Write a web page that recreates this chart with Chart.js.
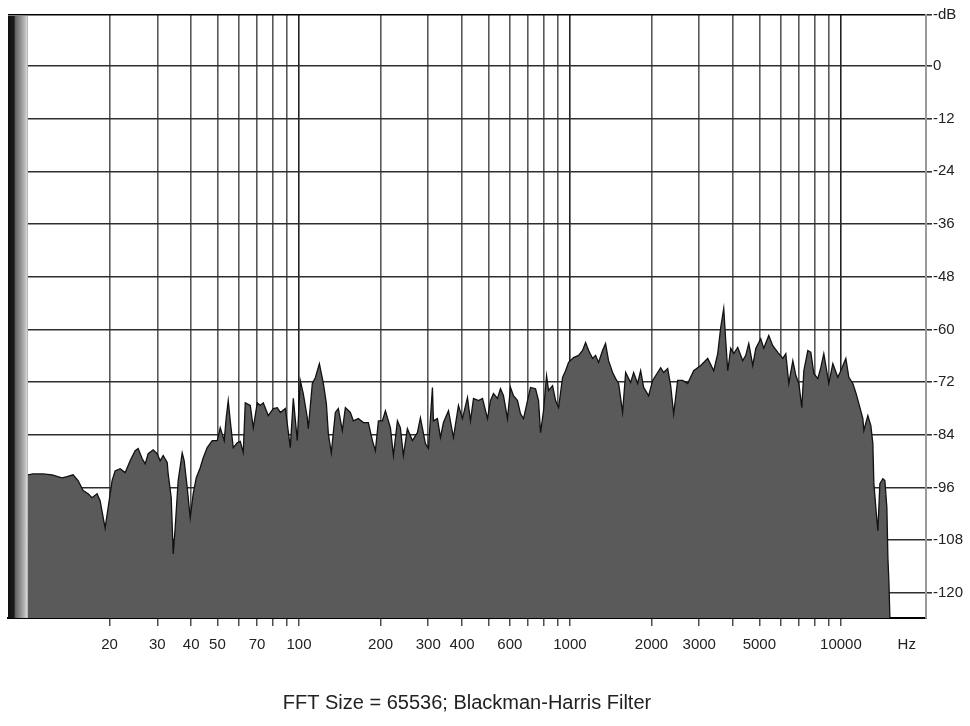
<!DOCTYPE html>
<html>
<head>
<meta charset="utf-8">
<script src="https://cdn.jsdelivr.net/npm/chart.js@4.4.0/dist/chart.umd.min.js"></script>
<style>
  html, body { margin: 0; padding: 0; background: #fff; }
  #wrap { width: 970px; height: 726px; }
</style>
</head>
<body>
<div id="wrap"><canvas id="fftChart"></canvas></div>
<script>
// Spectrum (Hz / dB)
const freqHz = [
  10, 10.43, 11.36, 12.27, 13.35, 13.94, 14.66, 15.3, 15.97, 16.66, 17.23, 17.98, 18.45, 19.25, 19.75,
  20.43, 20.96, 21.87, 22.82, 23.81, 24.85, 25.49, 26.37, 27.06, 27.76, 28.96, 29.96, 30.74, 31.53, 32.63,
  32.9, 33.76, 34.34, 34.91, 35.82, 37.07, 37.7, 38.68, 39.68, 40.7, 41.75, 43.2, 44.32, 45.85, 47.84,
  49.92, 51.21, 52.97, 53.88, 54.81, 55.75, 57.19, 59.17, 60.71, 62.27,
  63.34, 66.1, 67.81, 70.15, 71.94, 73.81, 77.02, 80.37, 83.16, 85.31, 89.02, 92.89, 95.28, 98.56, 101.1,
  103.7, 107.3, 108.2, 112, 114.9, 118.9, 123, 126.2, 128.3, 131.6, 136.2, 139.7, 144.5, 148.3, 154.7,
  158.7, 165.6, 172.8, 180.3, 186.6, 191.4, 196.4, 203.2, 208.4, 217.5, 223.1, 230.8, 236.7, 242.8, 251.2,
  262.1, 273.5, 280.6, 292.8, 300.4, 310.8, 313.4, 324.3, 332.7, 341.3, 356.2, 371.5, 387.7, 401.1,
  418.6, 429.4, 440.6, 459.7, 475.6, 496.3, 508.8, 522, 540.1, 554.1, 568.4, 588.1, 603.3, 618.9, 640.4,
  656.9, 674, 697.3, 715.3, 746.4, 765.6, 778.8, 799, 819.7, 833.8, 862.6, 885, 907.8, 939.3, 963.4,
  988.2, 1031, 1076, 1113, 1142, 1172, 1212, 1243, 1275, 1319, 1353, 1388, 1437, 1474, 1512,
  1564, 1605, 1674, 1718, 1777, 1823, 1871, 1952, 2019, 2107, 2161, 2217, 2294, 2353, 2414, 2497, 2606,
  2719, 2861, 3038, 3224, 3393, 3510, 3601, 3694, 3757, 3822, 3921, 4022, 4161, 4342, 4454,
  4570, 4728, 4850, 5060, 5191, 5416, 5604, 5848, 6102, 6260, 6422, 6645, 6817, 6993, 7172,
  7296, 7548, 7743, 7943, 8214, 8427, 8645, 9022, 9335, 9739, 9991, 10425, 10695, 11066, 11350,
  11645, 12048, 12151, 12570, 12895, 13117, 13229, 13455, 13687, 13922, 14282, 14527, 14777, 14904, 15031, 15160
]
const levelDb = [
  -93.1, -92.9, -92.9, -93.1, -93.8, -93.5, -93.1, -94.4, -96.7, -97.4, -98.3, -97.4, -99.0, -105.2, -100.6,
  -94.4, -92.2, -91.7, -92.6, -89.9, -87.6, -87.1, -89.4, -90.6, -88.3, -87.4, -88.3, -89.9, -88.7, -90.3,
  -92.9, -98.3, -111.1, -105.2, -94.4, -88.1, -89.9, -96.0, -102.9, -97.4, -93.8, -91.5, -89.2, -86.9, -85.3,
  -85.3, -82.4, -85.3, -80.1, -76.2, -80.8, -86.9, -85.8, -85.5, -88.0,
  -76.7, -77.3, -82.4, -76.7, -77.3, -76.7, -79.6, -78.0, -77.8, -78.9, -78.0, -86.9, -75.7, -85.3, -71.6,
  -74.6, -80.1, -82.6, -72.3, -71.0, -67.8, -72.3, -76.9, -83.7, -88.1, -78.9, -78.0, -83.0, -77.8, -78.9,
  -80.8, -80.3, -81.2, -81.2, -85.3, -87.6, -80.8, -80.8, -78.5, -82.4, -88.7, -80.8, -82.4, -88.7, -82.6,
  -85.3, -83.5, -80.1, -86.0, -87.1, -73.2, -80.8, -80.3, -84.6, -81.2, -78.5, -84.6, -77.3, -80.3,
  -75.5, -80.8, -75.7, -76.2, -75.7, -80.3, -76.2, -74.6, -75.7, -73.5, -75.1, -80.3, -73.2, -75.1, -76.2,
  -79.2, -80.3, -76.2, -73.2, -73.5, -76.2, -83.5, -78.5, -70.5, -73.9, -72.8, -76.2, -77.8, -70.9, -69.4,
  -67.5, -66.4, -65.9, -64.8, -63.0, -64.8, -66.6, -65.9, -67.5, -64.8, -63.2, -67.1, -69.8, -71.2, -72.3,
  -78.9, -69.8, -72.1, -69.8, -72.3, -69.4, -73.2, -75.1, -71.6, -69.8, -68.7, -69.8, -68.9, -72.8, -79.2, -71.6, -71.6,
  -72.3, -69.4, -68.2, -66.6, -69.4, -65.5, -59.5, -55.2, -62.5, -69.4, -64.3, -65.5, -64.1, -67.1, -65.9,
  -63.2, -68.2, -64.3, -62.1, -64.3, -61.4, -63.7, -65.2, -66.6, -65.5, -72.3, -67.1, -70.5, -72.3, -77.8,
  -69.4, -64.8, -65.2, -70.0, -71.2, -68.7, -65.5, -72.3, -67.8, -70.9, -69.4, -66.6, -70.9, -72.3, -74.4,
  -76.9, -80.3, -83.0, -79.6, -81.9, -86.0, -95.1, -100.6, -105.9, -95.1, -94.0, -94.4, -100.6, -112.0, -117.3, -125.7
]

// axes
const xTicks = [20, 30, 40, 50, 60, 70, 80, 90, 100, 200, 300, 400, 500, 600, 700, 800, 900,
  1000, 2000, 3000, 4000, 5000, 6000, 7000, 8000, 9000, 10000, 17500]
const xLabeled = [20, 30, 40, 50, 70, 100, 200, 300, 400, 600, 1000, 2000, 3000, 5000, 10000]
const hzLabelAt = 17500
const yTicks = [11.6, 0, -12, -24, -36, -48, -60, -72, -84, -96, -108, -120]
const xMin = 8.435, xMax = 20600
const yMin = -125.7, yMax = 11.6

const points = freqHz.map((f, i) => ({ x: f, y: levelDb[i] }))
const tickFont = { family: "'Liberation Sans Narrow', 'Liberation Sans', Arial, sans-serif", size: 15 }

// dark shaded strip left of 10 Hz
const leftStrip = {
  id: "leftStrip",
  beforeDatasetsDraw(chart) {
    const { ctx, chartArea } = chart
    const x10 = chart.scales.x.getPixelForValue(10)
    const g = ctx.createLinearGradient(chartArea.left, 0, x10, 0)
    g.addColorStop(0, "#111")
    g.addColorStop(0.3, "#1a1a1a")
    g.addColorStop(0.38, "#666")
    g.addColorStop(0.6, "#8c8c8c")
    g.addColorStop(0.82, "#b5b5b5")
    g.addColorStop(0.93, "#d2d2d2")
    g.addColorStop(1, "#aaa")
    ctx.save()
    ctx.fillStyle = g
    ctx.fillRect(chartArea.left, chartArea.top + 1, x10 - chartArea.left, chartArea.bottom - chartArea.top - 1)
    ctx.restore()
  },
}

new Chart(document.getElementById("fftChart"), {
  type: "line",
  data: {
    datasets: [
      {
        data: points,
        borderColor: "#111",
        borderWidth: 1.3,
        backgroundColor: "#5a5a5a",
        fill: "start",
        pointRadius: 0,
        tension: 0,
      },
    ],
  },
  options: {
    responsive: true,
    maintainAspectRatio: false,
    animation: false,
    layout: { padding: { left: 8, top: 15, right: 6, bottom: 0 } },
    plugins: {
      legend: { display: false },
      tooltip: { enabled: false },
    },
    scales: {
      x: {
        type: "logarithmic",
        min: xMin,
        max: xMax,
        afterBuildTicks: axis => {
          axis.ticks = xTicks.map(v => ({ value: v }))
        },
        ticks: {
          autoSkip: false,
          maxRotation: 0,
          padding: 10,
          color: "#222",
          font: tickFont,
          callback: v => (v === hzLabelAt ? "Hz" : xLabeled.includes(v) ? String(v) : ""),
        },
        title: {
          display: true,
          text: "FFT Size = 65536; Blackman-Harris Filter",
          color: "#222",
          font: { family: "'Liberation Sans', Arial, sans-serif", size: 20, weight: "normal" },
          padding: { top: 27, bottom: 11 },
        },
        grid: {
          color: c => {
            const v = c.tick && c.tick.value
            if (v === hzLabelAt) return "rgba(0,0,0,0)"
            return v === 100 || v === 1000 || v === 10000 ? "#222" : "#595959"
          },
          tickColor: c => (c.tick && c.tick.value === hzLabelAt ? "rgba(0,0,0,0)" : "#222"),
          lineWidth: 1.6,
          tickWidth: 1.2,
          tickLength: 8,
        },
        border: { display: true, color: "#000", width: 2 },
      },
      y: {
        position: "right",
        min: yMin,
        max: yMax,
        afterBuildTicks: axis => {
          axis.ticks = yTicks.map(v => ({ value: v }))
        },
        ticks: {
          padding: 1,
          color: "#222",
          font: tickFont,
          crossAlign: "near",
          callback: v => (v === yMax ? "-dB" : String(v)),
        },
        grid: {
          color: c => (c.tick && c.tick.value === yMax ? "#000" : "#2e2e2e"),
          lineWidth: 1.6,
          tickColor: "#333",
          tickLength: 6,
        },
        border: { display: true, color: "#9a9a9a", width: 2 },
      },
    },
  },
  plugins: [leftStrip],
})
</script>
</body>
</html>
